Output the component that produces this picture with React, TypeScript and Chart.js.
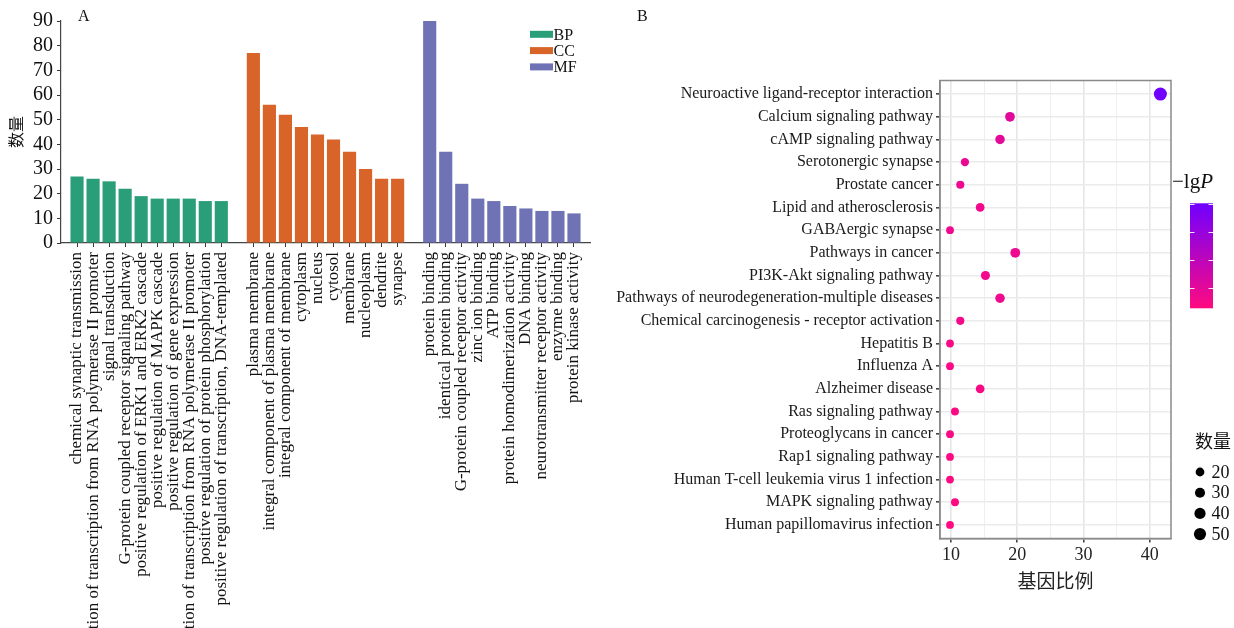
import React, { useEffect, useRef } from 'react';
import { Chart, registerables } from 'chart.js';

Chart.register(...registerables);

const SERIF = '"Liberation Serif", "Times New Roman", "Noto Sans CJK SC", serif';

// ---------- Panel A data ----------
const bpTerms = [
  'chemical synaptic transmission',
  'positive regulation of transcription from RNA polymerase II promoter',
  'signal transduction',
  'G-protein coupled receptor signaling pathway',
  'positive regulation of ERK1 and ERK2 cascade',
  'positive regulation of MAPK cascade',
  'positive regulation of gene expression',
  'negative regulation of transcription from RNA polymerase II promoter',
  'positive regulation of protein phosphorylation',
  'positive regulation of transcription, DNA-templated',
];
const bpCounts = [27, 26, 25, 22, 19, 18, 18, 18, 17, 17];

const ccTerms = [
  'plasma membrane',
  'integral component of plasma membrane',
  'integral component of membrane',
  'cytoplasm',
  'nucleus',
  'cytosol',
  'membrane',
  'nucleoplasm',
  'dendrite',
  'synapse',
];
const ccCounts = [77, 56, 52, 47, 44, 42, 37, 30, 26, 26];

const mfTerms = [
  'protein binding',
  'identical protein binding',
  'G-protein coupled receptor activity',
  'zinc ion binding',
  'ATP binding',
  'protein homodimerization activity',
  'DNA binding',
  'neurotransmitter receptor activity',
  'enzyme binding',
  'protein kinase activity',
];
const mfCounts = [90, 37, 24, 18, 17, 15, 14, 13, 13, 12];

const groupNames = ['BP', 'CC', 'MF'];
const groupColors = ['#2A9E78', '#D9642A', '#6F72B4'];
const yTicksA = [0, 10, 20, 30, 40, 50, 60, 70, 80, 90];

// ---------- Panel B data ----------
const pathways = [
  'Neuroactive ligand-receptor interaction',
  'Calcium signaling pathway',
  'cAMP signaling pathway',
  'Serotonergic synapse',
  'Prostate cancer',
  'Lipid and atherosclerosis',
  'GABAergic synapse',
  'Pathways in cancer',
  'PI3K-Akt signaling pathway',
  'Pathways of neurodegeneration-multiple diseases',
  'Chemical carcinogenesis - receptor activation',
  'Hepatitis B',
  'Influenza A',
  'Alzheimer disease',
  'Ras signaling pathway',
  'Proteoglycans in cancer',
  'Rap1 signaling pathway',
  'Human T-cell leukemia virus 1 infection',
  'MAPK signaling pathway',
  'Human papillomavirus infection',
];
const geneRatio = [41.6, 18.9, 17.4, 12.1, 11.4, 14.4, 9.85, 19.7, 15.2, 17.4, 11.4, 9.85, 9.85, 14.4, 10.6, 9.85, 9.85, 9.85, 10.6, 9.85];
const geneCount = [59, 27, 25, 17, 16, 20, 14, 28, 22, 25, 16, 14, 14, 20, 15, 14, 14, 14, 15, 14];
const negLgP = [20.1, 5.2, 4.8, 4.0, 3.3, 3.0, 3.2, 3.6, 2.9, 3.4, 2.5, 2.2, 2.0, 2.1, 1.8, 1.7, 1.6, 1.5, 1.4, 1.3];
const xTicksB = [10, 15, 20, 25, 30, 35, 40];
const sizeLegend = [20, 30, 40, 50];
const colorTicks = [5, 10, 15, 20];
const lowColor = [255, 10, 128];
const highColor = [112, 0, 255];

// ---------- helpers ----------
const cMin = Math.min(...geneCount);
const cMax = Math.max(...geneCount);
function diameterFor(c: number) {
  const t = (Math.sqrt(c) - Math.sqrt(cMin)) / (Math.sqrt(cMax) - Math.sqrt(cMin));
  return 7.8 + t * 5.2;
}
const pMin = Math.min(...negLgP);
const pMax = Math.max(...negLgP);
function colorFor(v: number) {
  const t = (v - pMin) / (pMax - pMin);
  const c = lowColor.map((l, i) => Math.round(l + (highColor[i] - l) * t));
  return `rgb(${c[0]},${c[1]},${c[2]})`;
}

const labelsA: string[] = ['', ...bpTerms, '', ...ccTerms, '', ...mfTerms, ''];
function seriesData(offset: number, counts: number[]) {
  return labelsA.map((_, i) => {
    const k = i - offset;
    return k >= 0 && k < counts.length ? counts[k] : null;
  });
}

const panelAPlugin = {
  id: 'panelA',
  afterDraw(chart: any) {
    const ctx = chart.ctx;
    ctx.save();
    ctx.fillStyle = '#111';
    ctx.font = `16px ${SERIF}`;
    ctx.textBaseline = 'alphabetic';
    ctx.textAlign = 'left';
    ctx.fillText('A', 78, 21);
    // legend
    chart.data.datasets.forEach((ds: any, i: number) => {
      const cy = 34.3 + i * 16.3;
      ctx.fillStyle = ds.backgroundColor;
      ctx.fillRect(530, cy - 3.5, 23, 7);
      ctx.fillStyle = '#111';
      ctx.font = `16px ${SERIF}`;
      ctx.textBaseline = 'middle';
      ctx.fillText(ds.label, 553.5, cy + 1);
    });
    ctx.restore();
  },
};

const panelBPlugin = {
  id: 'panelB',
  afterDatasetsDraw(chart: any) {
    const { ctx, chartArea } = chart;
    ctx.save();
    ctx.strokeStyle = '#8a8a8a';
    ctx.lineWidth = 1.5;
    ctx.strokeRect(chartArea.left, chartArea.top, chartArea.right - chartArea.left, chartArea.bottom - chartArea.top);
    ctx.restore();
  },
  afterDraw(chart: any) {
    const ctx = chart.ctx;
    ctx.save();
    ctx.fillStyle = '#111';
    ctx.font = `16px ${SERIF}`;
    ctx.textAlign = 'left';
    ctx.textBaseline = 'alphabetic';
    ctx.fillText('B', 37, 21);

    // colour bar title
    ctx.font = `21px ${SERIF}`;
    ctx.fillStyle = '#111';
    const t1 = '\u2212lg';
    ctx.fillText(t1, 572, 188);
    const w1 = ctx.measureText(t1).width;
    ctx.font = `italic 21px ${SERIF}`;
    ctx.fillText('P', 572 + w1, 188);

    // colour bar
    const bx = 590, bw = 23, top = 203.3, bottom = 308.3;
    const g = ctx.createLinearGradient(0, bottom, 0, top);
    g.addColorStop(0, colorFor(pMin));
    g.addColorStop(1, colorFor(pMax));
    ctx.fillStyle = g;
    ctx.fillRect(bx, top, bw, bottom - top);
    ctx.strokeStyle = 'rgba(255,255,255,0.9)';
    ctx.lineWidth = 1;
    colorTicks.forEach((v) => {
      const y = Math.round(bottom - ((v - pMin) / (pMax - pMin)) * (bottom - top)) + 0.5;
      ctx.beginPath();
      ctx.moveTo(bx, y);
      ctx.lineTo(bx + 4.5, y);
      ctx.moveTo(bx + bw - 4.5, y);
      ctx.lineTo(bx + bw, y);
      ctx.stroke();
    });

    // size legend
    ctx.fillStyle = '#111';
    ctx.font = `18px ${SERIF}`;
    ctx.textBaseline = 'middle';
    ctx.fillText('数量', 595, 443);
    sizeLegend.forEach((c, i) => {
      const cy = 472 + i * 20.7;
      ctx.beginPath();
      ctx.arc(600, cy, diameterFor(c) / 2, 0, Math.PI * 2);
      ctx.fillStyle = '#000';
      ctx.fill();
      ctx.fillStyle = '#111';
      ctx.fillText(String(c), 611.5, cy + 1);
    });
    ctx.restore();
  },
};

export default function App() {
  const refA = useRef<HTMLCanvasElement | null>(null);
  const refB = useRef<HTMLCanvasElement | null>(null);

  useEffect(() => {
    const datasets = [bpCounts, ccCounts, mfCounts].map((counts, gi) => ({
      label: groupNames[gi],
      data: seriesData(1 + gi * 11, counts),
      backgroundColor: groupColors[gi],
      borderWidth: 0,
    }));

    const chartA = new Chart(refA.current as HTMLCanvasElement, {
      type: 'bar',
      data: { labels: labelsA, datasets },
      plugins: [panelAPlugin],
      options: {
        animation: false,
        responsive: false,
        maintainAspectRatio: false,
        layout: { padding: { top: 21, right: 10, left: 0, bottom: 0 } },
        datasets: { bar: { grouped: false, categoryPercentage: 0.82, barPercentage: 1 } } as any,
        plugins: { legend: { display: false }, tooltip: { enabled: false } },
        scales: {
          x: {
            type: 'category',
            offset: false,
            grid: {
              display: true,
              offset: false,
              drawOnChartArea: false,
              drawTicks: true,
              tickLength: 4,
              color: (ctx: any) => (labelsA[ctx.index] ? '#333' : 'rgba(0,0,0,0)'),
              lineWidth: 1,
            },
            border: { display: true, color: '#444', width: 1.2 },
            ticks: {
              autoSkip: false,
              minRotation: 90,
              maxRotation: 90,
              padding: 5,
              color: '#111',
              font: { family: SERIF, size: 17 },
            },
            afterFit: (s: any) => {
              s.height = 385;
              s.paddingLeft = 0;
              s.paddingRight = 0;
            },
          },
          y: {
            min: 0,
            max: 90,
            afterBuildTicks: (s: any) => {
              s.ticks = yTicksA.map((v) => ({ value: v }));
            },
            ticks: { autoSkip: false, color: '#111', padding: 4, font: { family: SERIF, size: 20 } },
            grid: { drawOnChartArea: false, drawTicks: true, tickLength: 4, color: '#333' },
            border: { display: true, color: '#444', width: 1.2 },
            title: {
              display: true,
              text: '数量',
              color: '#111',
              font: { family: SERIF, size: 16 },
              padding: { top: 8, bottom: 0 },
            },
            afterFit: (s: any) => {
              s.width = 61;
            },
          },
        },
      } as any,
    });

    const chartB = new Chart(refB.current as HTMLCanvasElement, {
      type: 'bubble',
      data: {
        datasets: [
          {
            label: 'KEGG',
            data: pathways.map((_, i) => ({ x: geneRatio[i], y: i, r: diameterFor(geneCount[i]) / 2 })),
            backgroundColor: negLgP.map(colorFor),
            borderWidth: 0,
          },
        ],
      },
      plugins: [panelBPlugin],
      options: {
        animation: false,
        responsive: false,
        maintainAspectRatio: false,
        layout: { padding: { top: 80.5, right: 63, left: 0, bottom: 0 } },
        plugins: { legend: { display: false }, tooltip: { enabled: false } },
        scales: {
          x: {
            type: 'linear',
            min: 8.34,
            max: 43.2,
            afterBuildTicks: (s: any) => {
              s.ticks = xTicksB.map((v) => ({ value: v }));
            },
            ticks: {
              autoSkip: false,
              color: '#222',
              padding: 2,
              font: { family: SERIF, size: 18 },
              callback: (v: any) => (Number(v) % 10 === 0 ? String(v) : ''),
            },
            grid: {
              color: (ctx: any) => (ctx.tick && ctx.tick.value % 10 === 0 ? '#E6E6E6' : '#EFEFEF'),
              lineWidth: (ctx: any) => (ctx.tick && ctx.tick.value % 10 === 0 ? 1.6 : 1),
              tickColor: (ctx: any) => (ctx.tick && ctx.tick.value % 10 === 0 ? '#444' : 'rgba(0,0,0,0)'),
              tickLength: 4,
            },
            border: { display: true, color: '#8a8a8a', width: 1.5 },
            title: {
              display: true,
              text: '基因比例',
              color: '#222',
              font: { family: SERIF, size: 19 },
              padding: { top: 0, bottom: 34 },
            },
            afterFit: (s: any) => {
              s.height = 628 - 538.5;
            },
          },
          y: {
            type: 'linear',
            reverse: true,
            min: -0.6,
            max: pathways.length - 0.4,
            afterBuildTicks: (s: any) => {
              s.ticks = pathways.map((_, i) => ({ value: i }));
            },
            ticks: {
              autoSkip: false,
              color: '#1a1a1a',
              padding: 3,
              font: { family: SERIF, size: 16 },
              callback: (v: any) => pathways[Number(v)] ?? '',
            },
            grid: { color: '#EBEBEB', lineWidth: 1.6, tickColor: '#444', tickLength: 4 },
            border: { display: true, color: '#8a8a8a', width: 1.5 },
            afterFit: (s: any) => {
              s.width = 340;
            },
          },
        },
      } as any,
    });

    return () => {
      chartA.destroy();
      chartB.destroy();
    };
  }, []);

  return (
    <div
      style={{
        position: 'absolute',
        left: 0,
        top: 0,
        width: 1234,
        height: 628,
        background: '#fff',
        overflow: 'hidden',
      }}
    >
      <canvas ref={refA} width={600} height={628} style={{ position: 'absolute', left: 0, top: 0 }} />
      <canvas ref={refB} width={634} height={628} style={{ position: 'absolute', left: 600, top: 0 }} />
    </div>
  );
}
